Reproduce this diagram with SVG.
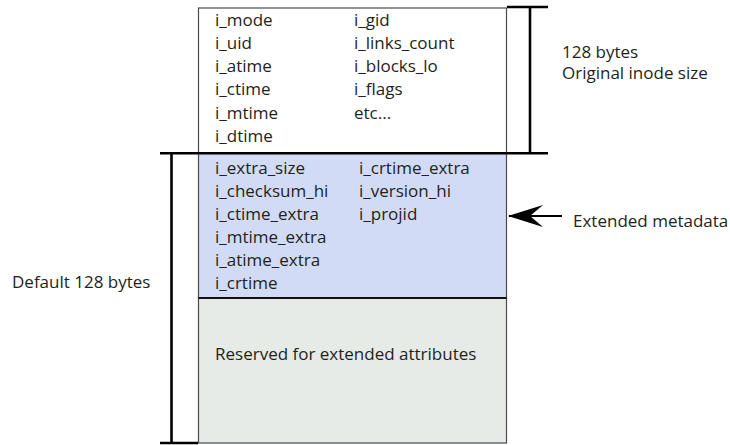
<svg xmlns="http://www.w3.org/2000/svg" width="730" height="445" viewBox="0 0 730 445">
<style>
text{font-family:"Open Sans","Noto Sans",sans-serif;font-size:17px;fill:#231f20}
.thin{stroke:#4a4a4a;stroke-width:1.2}
.bar{stroke:#000;stroke-width:2.6;fill:none}
</style>
<defs>
<marker id="ah" viewBox="0 0 36 24" refX="35" refY="12" markerWidth="36" markerHeight="24" markerUnits="userSpaceOnUse" orient="auto">
<path d="M36,12 L1,1 L14,12 L1,23 Z" fill="#000"/>
</marker>
</defs>
<rect width="730" height="445" fill="#fff"/>
<g id="base-inode">
<rect x="198.5" y="8" width="308" height="145" fill="#fff" class="thin"/>
<text x="215" y="25.5">i_mode</text>
<text x="215" y="48.8">i_uid</text>
<text x="215" y="72.1">i_atime</text>
<text x="215" y="95.4">i_ctime</text>
<text x="215" y="118.7">i_mtime</text>
<text x="215" y="142">i_dtime</text>
<text x="354" y="25.5">i_gid</text>
<text x="354" y="48.8">i_links_count</text>
<text x="354" y="72.1">i_blocks_lo</text>
<text x="354" y="95.4">i_flags</text>
<text x="354" y="118.7">etc...</text>
</g>
<g id="extended-metadata">
<rect x="198.5" y="153" width="308" height="145" fill="#d2dbf5" class="thin"/>
<text x="215" y="174">i_extra_size</text>
<text x="215" y="197">i_checksum_hi</text>
<text x="215" y="220">i_ctime_extra</text>
<text x="215" y="243">i_mtime_extra</text>
<text x="215" y="266">i_atime_extra</text>
<text x="215" y="289">i_crtime</text>
<text x="359" y="174">i_crtime_extra</text>
<text x="359" y="197">i_version_hi</text>
<text x="359" y="220">i_projid</text>
</g>
<g id="reserved">
<rect x="198.5" y="298" width="308" height="145" fill="#e6ebe7" class="thin"/>
<line x1="198.5" y1="298" x2="506.5" y2="298" stroke="#111" stroke-width="2"/>
<text x="215" y="360">Reserved for extended attributes</text>
</g>
<g id="labels">
<text x="562" y="58">128 bytes</text>
<text x="562" y="79">Original inode size</text>
<text x="573" y="227">Extended metadata</text>
<text x="12" y="288">Default 128 bytes</text>
</g>
<g id="connectors">
<line x1="507" y1="7" x2="548" y2="7" class="bar"/>
<line x1="530" y1="7" x2="530" y2="153" class="bar"/>
<line x1="160" y1="153.3" x2="548" y2="153.3" class="bar"/>
<line x1="171.5" y1="153" x2="171.5" y2="443" class="bar"/>
<line x1="160" y1="443" x2="198" y2="443" class="bar"/>
<line x1="562" y1="216" x2="509" y2="216" stroke="#000" stroke-width="2.2" marker-end="url(#ah)"/>
</g>
</svg>
